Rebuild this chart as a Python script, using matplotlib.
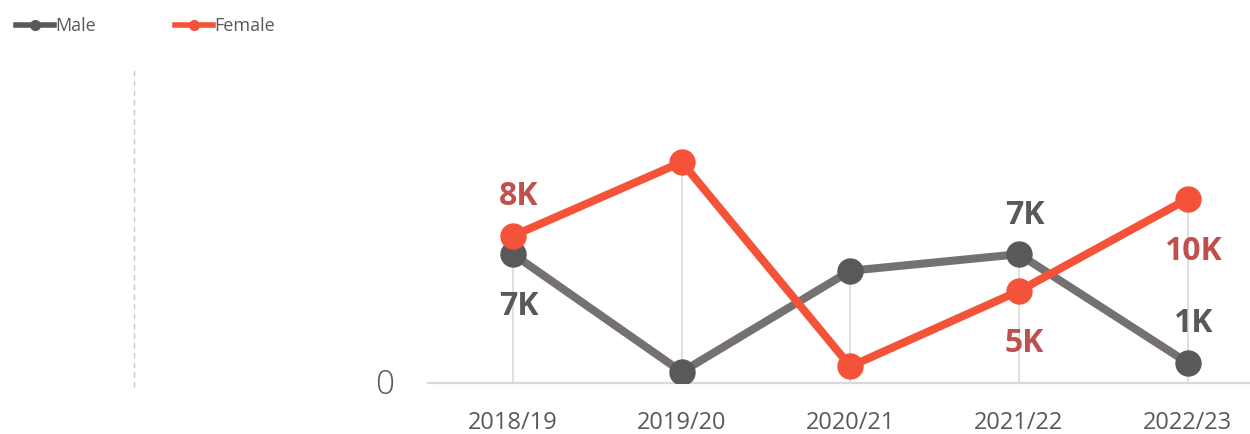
import matplotlib
matplotlib.use("Agg")
import matplotlib.pyplot as plt
from matplotlib.lines import Line2D

plt.rcParams["font.family"] = ["Open Sans", "DejaVu Sans"]

# values in thousands
years = ["2018/19", "2019/20", "2020/21", "2021/22", "2022/23"]
male = [7.0, 0.6, 6.1, 7.0, 1.1]
female = [8.0, 12.0, 0.9, 5.0, 10.0]

# which points carry a label, and on which side (+1 above, -1 below)
male_labels = {0: ("7K", -1), 3: ("7K", 1), 4: ("1K", 1)}
female_labels = {0: ("8K", 1), 3: ("5K", -1), 4: ("10K", -1)}

MALE_LINE = "#767171"
MALE_DOT = "#595959"
FEMALE = "#F4533A"
FEMALE_TXT = "#C0504D"
GRID = "#D9D9D9"

fig = plt.figure(figsize=(12.5, 4.34), dpi=100)
ax = fig.add_axes([428 / 1250, 1 - 383 / 434, 1 - 428 / 1250, 311 / 434])

x = list(range(len(years)))

# drop lines from the highest point of each year down to the axis
for i in x:
    ax.plot([i, i], [0, max(male[i], female[i])], color=GRID, lw=1.2, zorder=1)

ax.plot(x, male, color=MALE_LINE, lw=5.8, marker="o", markersize=18,
        markerfacecolor=MALE_DOT, markeredgecolor=MALE_DOT, zorder=3)
ax.plot(x, female, color=FEMALE, lw=5.8, marker="o", markersize=18,
        markerfacecolor=FEMALE, markeredgecolor=FEMALE, zorder=4)

offsets = {1: 28, -1: -38}
for series, labels, color in ((male, male_labels, MALE_DOT),
                              (female, female_labels, FEMALE_TXT)):
    for i, (txt, side) in labels.items():
        ax.annotate(txt, xy=(i, series[i]), xytext=(4, offsets[side]),
                    textcoords="offset points", ha="center", va="center",
                    fontsize=23, fontweight="bold", color=color, zorder=5)

ax.set_xlim(-0.505, 4.37)
ax.set_ylim(0, 16.9)
ax.set_xticks(x)
ax.set_xticklabels(years, fontsize=17, color="#595959")
ax.tick_params(axis="x", length=0, pad=20)
ax.set_yticks([])
for side in ("top", "right", "left"):
    ax.spines[side].set_visible(False)
ax.spines["bottom"].set_color(GRID)
ax.spines["bottom"].set_linewidth(1.6)

# zero label and dashed guide on the left
fig.text(385 / 1250, 1 - 385 / 434, "0", fontsize=24, color="#595959",
         ha="center", va="center", fontweight="light")
fig.add_artist(Line2D([134 / 1250, 134 / 1250], [1 - 387 / 434, 1 - 70 / 434],
                      transform=fig.transFigure, color="#C8C8C8", lw=1,
                      linestyle=(0, (4, 3))))

# legend
handles = [
    Line2D([], [], color=MALE_DOT, lw=4, marker="o", markersize=7),
    Line2D([], [], color=FEMALE, lw=4, marker="o", markersize=7),
]
fig.legend(handles, ["Male", "Female"], loc="upper left",
           bbox_to_anchor=(0.0, 0.998), ncol=2, frameon=False, fontsize=13,
           handlelength=2.1, handletextpad=0.05, columnspacing=4.4,
           labelcolor="#595959")

fig.savefig("out.png", dpi=100)
